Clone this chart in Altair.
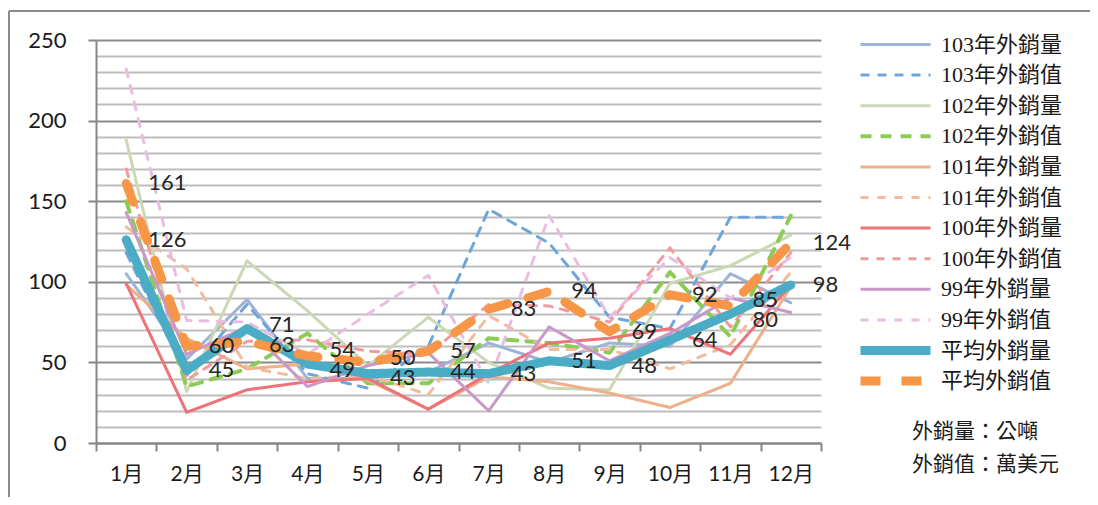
import altair as alt
import pandas as pd

months = ["1月", "2月", "3月", "4月", "5月", "6月", "7月", "8月", "9月", "10月", "11月", "12月"]

series_names = ["103年外銷量", "103年外銷值", "102年外銷量", "102年外銷值", "101年外銷量", "101年外銷值",
                "100年外銷量", "100年外銷值", "99年外銷量", "99年外銷值", "平均外銷量", "平均外銷值"]

qty_103 = [105, 52, 89, 40, 40, 44, 62, 50, 62, 60, 105, 87]
val_103 = [118, 42, 86, 43, 34, 60, 145, 124, 78, 71, 140, 140]
qty_102 = [188, 32, 113, 82, 48, 78, 50, 34, 33, 99, 110, 129]
val_102 = [150, 35, 46, 68, 37, 37, 65, 62, 56, 106, 66, 141]
qty_101 = [98, 65, 46, 49, 39, 21, 41, 38, 31, 22, 37, 97]
val_101 = [134, 108, 47, 40, 42, 30, 79, 58, 58, 46, 61, 106]
qty_100 = [99, 19, 33, 38, 40, 21, 43, 62, 65, 71, 55, 98]
val_100 = [170, 39, 63, 64, 57, 55, 86, 85, 75, 121, 72, 118]
qty_99 = [143, 55, 72, 35, 48, 56, 20, 72, 51, 68, 90, 81]
val_99 = [232, 76, 75, 55, 80, 104, 37, 141, 78, 115, 90, 115]
avg_qty = [126, 45, 71, 49, 43, 44, 43, 51, 48, 64, 80, 98]
avg_val = [161, 60, 63, 54, 50, 57, 83, 94, 69, 92, 85, 124]

all_values = [qty_103, val_103, qty_102, val_102, qty_101, val_101,
              qty_100, val_100, qty_99, val_99, avg_qty, avg_val]

colors = ["#9DB4D8", "#6FA6DA", "#CBD8B4", "#8DCB57", "#EDB08A", "#F2BC9C",
          "#EE7379", "#F49A9E", "#C898C8", "#E8BEE0", "#4BACC6", "#F79646"]
dashes = [[1, 0], [9, 8], [1, 0], [11, 9], [1, 0], [8, 9],
          [1, 0], [8, 8], [1, 0], [8, 9], [1, 0], [20, 21]]
widths = [3, 3, 3, 4, 3, 3, 3, 3, 3, 3, 9, 9]

notes = ["外銷量：公噸", "外銷值：萬美元"]

rows = []
for name, vals in zip(series_names, all_values):
    for m, v in zip(months, vals):
        rows.append({"month": m, "value": v, "series": name})
df = pd.DataFrame(rows)

# data labels for the two average series, nudged apart when they would collide
MIN_SEP = 12.5
label_rows = []
for m, q, v in zip(months, avg_qty, avg_val):
    q_pos, v_pos = float(q), float(v)
    if abs(v - q) < MIN_SEP:
        mid = (q + v) / 2
        if v >= q:
            v_pos, q_pos = mid + MIN_SEP / 2, mid - MIN_SEP / 2
        else:
            q_pos, v_pos = mid + MIN_SEP / 2, mid - MIN_SEP / 2
    label_rows.append({"month": m, "value": q, "pos": q_pos})
    label_rows.append({"month": m, "value": v, "pos": v_pos})
label_df = pd.DataFrame(label_rows)

cjk = "Noto Sans CJK TC"
num_font = "Lato, Noto Sans CJK TC"

x_enc = alt.X("month:N", sort=months, title=None,
              scale=alt.Scale(type="band", domain=months, paddingInner=0, paddingOuter=0),
              axis=alt.Axis(tickBand="extent", grid=False, domainColor="#868686", domainWidth=2,
                            tickColor="#868686", tickWidth=2, tickSize=8, labelAngle=0,
                            labelFont=num_font, labelFontSize=21, labelColor="#1a1a1a",
                            labelPadding=12))
y_scale = alt.Scale(domain=[0, 250], nice=False, zero=True)
y_axis = alt.Axis(values=list(range(0, 251, 10)),
                  labelExpr="datum.value % 50 === 0 ? datum.label : ''",
                  gridColor=alt.condition("datum.value % 50 === 0",
                                          alt.value("#8c8c8c"), alt.value("#bdbdbd")),
                  gridWidth=2,
                  tickOpacity=alt.condition("datum.value % 50 === 0",
                                            alt.value(1), alt.value(0)),
                  tickColor="#868686", tickWidth=2, tickSize=8,
                  domainColor="#868686", domainWidth=2,
                  labelFont=num_font, labelFontSize=22, labelColor="#1a1a1a",
                  labelPadding=22)
y_enc = alt.Y("value:Q", title=None, scale=y_scale, axis=y_axis)

color_enc = alt.Color("series:N", title=None,
                      scale=alt.Scale(domain=series_names, range=colors),
                      legend=alt.Legend(orient="none", legendX=760, legendY=-8,
                                        symbolType="stroke", symbolSize=4900,
                                        clipHeight=25, rowPadding=5.6,
                                        labelFont="Liberation Serif, Noto Sans CJK TC",
                                        labelFontSize=22, labelColor="#1a1a1a",
                                        labelOffset=6, symbolOffset=0,
                                        labelLimit=300, padding=0))
dash_enc = alt.StrokeDash("series:N", title=None,
                          scale=alt.Scale(domain=series_names, range=dashes))
width_enc = alt.StrokeWidth("series:N", title=None,
                            scale=alt.Scale(type="ordinal", domain=series_names, range=widths))

base = alt.Chart(df)

thin = base.transform_filter(
    alt.FieldOneOfPredicate(field="series", oneOf=series_names[:10])
).mark_line(strokeCap="round", strokeJoin="round").encode(
    x=x_enc, y=y_enc, color=color_enc, strokeDash=dash_enc, strokeWidth=width_enc,
    detail="series:N")

avg_q = base.transform_filter(alt.datum.series == "平均外銷量").mark_line(
    strokeCap="round", strokeJoin="round").encode(
    x=x_enc, y=y_enc, color=color_enc, strokeDash=dash_enc, strokeWidth=width_enc)

avg_v = base.transform_filter(alt.datum.series == "平均外銷值").mark_line(
    strokeCap="round", strokeJoin="round").encode(
    x=x_enc, y=y_enc, color=color_enc, strokeDash=dash_enc, strokeWidth=width_enc)

labels = alt.Chart(label_df).mark_text(
    align="left", baseline="middle", dx=22, font="Lato", fontSize=22, color="#262626"
).encode(x=x_enc, y=alt.Y("pos:Q", title=None, scale=y_scale, axis=y_axis), text="value:Q")

note_df = pd.DataFrame({"note": notes, "row": [0, 1]})
note1 = alt.Chart(note_df).transform_filter(alt.datum.row == 0).mark_text(
    align="left", baseline="middle", font=cjk, fontSize=21, color="#1a1a1a"
).encode(x=alt.value(816), y=alt.value(392), text="note:N")
note2 = alt.Chart(note_df).transform_filter(alt.datum.row == 1).mark_text(
    align="left", baseline="middle", font=cjk, fontSize=21, color="#1a1a1a"
).encode(x=alt.value(816), y=alt.value(425), text="note:N")

frame_top = alt.Chart(note_df).mark_rule(color="#8a8a8a", strokeWidth=2).encode(
    x=alt.value(-87), x2=alt.value(1100), y=alt.value(-29))
frame_left = alt.Chart(note_df).mark_rule(color="#8a8a8a", strokeWidth=2).encode(
    x=alt.value(-87), y=alt.value(-29), y2=alt.value(480))

chart = alt.layer(frame_top, frame_left, thin, avg_q, avg_v, labels, note1, note2).properties(
    width=725, height=403,
    autosize=alt.AutoSizeParams(type="none"),
    padding={"left": 88, "top": 32, "right": 269, "bottom": 54},
    background="white"
).configure_view(stroke=None)

chart.save("out.html", embed_options={"renderer": "svg", "actions": False})
